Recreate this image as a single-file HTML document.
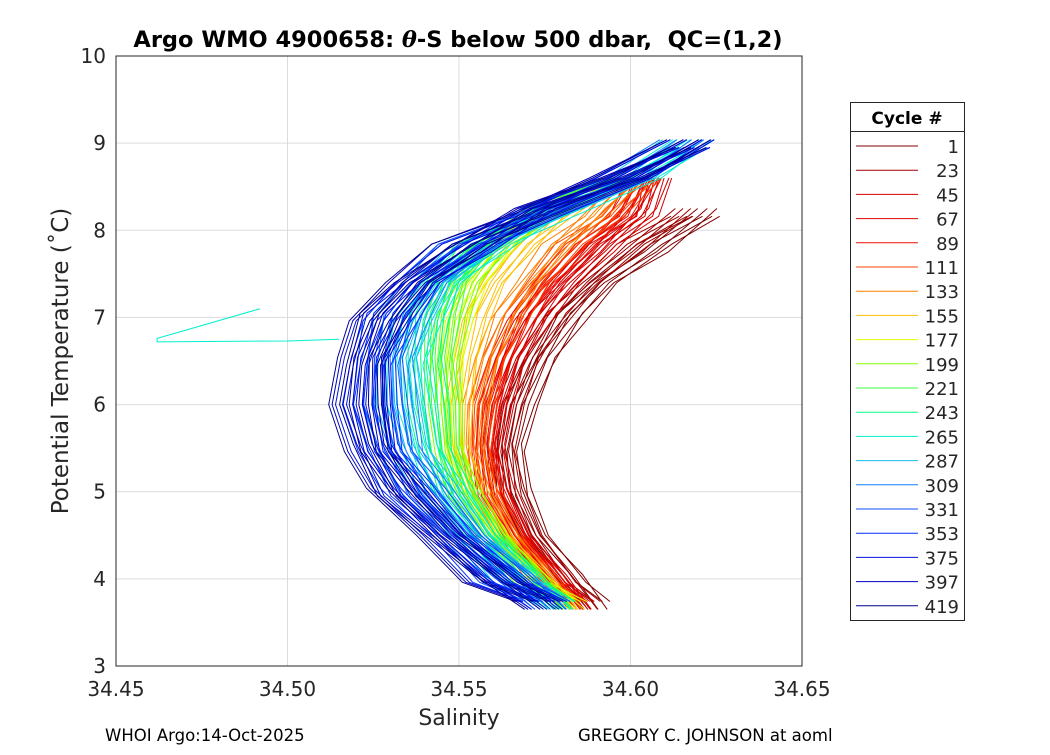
<!DOCTYPE html>
<html><head><meta charset="utf-8"><style>
body{margin:0;background:#fff;width:1050px;height:750px;overflow:hidden}
svg{font-family:"DejaVu Sans","Liberation Sans",sans-serif}
</style></head><body>
<svg id="c" width="1050" height="750" viewBox="0 0 1050 750">
<rect x="116" y="56" width="686" height="610" fill="#fff" stroke="none"/>
<g id="grid"></g><g id="lines"></g><g id="axes"></g>
<text x="458" y="47" text-anchor="middle" font-size="22.5" font-weight="bold" xml:space="preserve">Argo WMO 4900658: <tspan font-style="italic" font-family="DejaVu Serif,serif">θ</tspan>-S below 500 dbar,  QC=(1,2)</text>
<text x="459" y="725" text-anchor="middle" font-size="22" fill="#262626">Salinity</text>
<text transform="translate(68,361) rotate(-90)" text-anchor="middle" font-size="23" fill="#262626">Potential Temperature (˚C)</text>
<text x="105" y="741" font-size="16.5">WHOI Argo:14-Oct-2025</text>
<text x="578" y="741" font-size="16.5">GREGORY C. JOHNSON at aoml</text>
<g id="legend"></g>
</svg>
<script>
const xTicks=[34.45,34.5,34.55,34.6,34.65];
const yTicks=[3,4,5,6,7,8,9,10];
const tempLevels=[9.0,8.6,8.2,7.8,7.4,7.0,6.5,6.0,5.5,5.0,4.5,4.0,3.7];
const cycles=[1,23,45,67,89,111,133,155,177,199,221,243,265,287,309,331,353,375,397,419];
const colors=["#800000","#a00000","#d00000","#e00000","#f01000","#ff4000","#ff8000","#ffc000","#e0ff00","#80ff00","#40ff40","#00ff80","#00f0d0","#10c0f0","#1080ff","#1050ff","#0030ff","#0010e0","#0000c0","#000090"];
const sal1=[null,null,34.622,34.607,34.592,34.582,34.574,34.568,34.565,34.566,34.572,34.582,34.590];
const sal23=[null,null,34.615,34.600,34.588,34.578,34.570,34.565,34.563,34.565,34.571,34.580,34.588];
const sal45=[null,34.608,34.605,34.592,34.582,34.573,34.566,34.562,34.560,34.562,34.568,34.578,34.586];
const sal67=[null,34.605,34.600,34.588,34.578,34.570,34.564,34.560,34.558,34.560,34.567,34.577,34.585];
const sal89=[null,34.603,34.597,34.585,34.575,34.568,34.562,34.558,34.557,34.559,34.566,34.576,34.584];
const sal111=[null,34.605,34.595,34.582,34.573,34.566,34.560,34.557,34.556,34.558,34.565,34.575,34.583];
const sal133=[null,34.600,34.590,34.578,34.570,34.563,34.558,34.555,34.554,34.557,34.564,34.574,34.582];
const sal155=[null,34.595,34.580,34.568,34.560,34.555,34.552,34.550,34.550,34.554,34.562,34.573,34.582];
const sal177=[null,34.595,34.575,34.562,34.555,34.550,34.548,34.547,34.548,34.552,34.561,34.572,34.584];
const sal199=[null,34.595,34.575,34.560,34.552,34.548,34.546,34.546,34.547,34.551,34.560,34.571,34.580];
const sal221=[null,34.598,34.572,34.555,34.548,34.545,34.544,34.545,34.546,34.550,34.559,34.570,34.580];
const sal243=[null,34.600,34.575,34.555,34.545,34.541,34.540,34.541,34.543,34.548,34.557,34.569,34.579];
const sal265=[34.618,34.602,34.578,34.558,34.545,34.538,34.535,34.536,34.539,34.545,34.555,34.567,34.578];
const sal287=[34.615,34.600,34.575,34.555,34.542,34.535,34.532,34.533,34.536,34.543,34.553,34.566,34.577];
const sal309=[34.615,34.598,34.572,34.552,34.540,34.533,34.530,34.530,34.533,34.540,34.551,34.565,34.576];
const sal331=[34.618,34.598,34.572,34.552,34.538,34.530,34.527,34.527,34.530,34.538,34.550,34.564,34.576];
const sal353=[34.618,34.598,34.573,34.553,34.538,34.530,34.525,34.524,34.527,34.535,34.548,34.562,34.575];
const sal375=[34.618,34.598,34.573,34.553,34.538,34.528,34.523,34.522,34.525,34.533,34.546,34.561,34.575];
const sal397=[34.617,34.596,34.570,34.550,34.536,34.527,34.522,34.521,34.524,34.532,34.545,34.560,34.574];
const sal419=[34.617,34.597,34.571,34.550,34.535,34.526,34.521,34.520,34.523,34.531,34.544,34.559,34.573];
const profiles=[sal1,sal23,sal45,sal67,sal89,sal111,sal133,sal155,sal177,sal199,sal221,sal243,sal265,sal287,sal309,sal331,sal353,sal375,sal397,sal419];
const spread=[0.005,0.004,0.004,0.004,0.004,0.004,0.004,0.004,0.004,0.005,0.005,0.006,0.007,0.007,0.008,0.008,0.008,0.008,0.008,0.008];
const outlierS=[34.492,34.462,34.462,34.500,34.515];
const outlierT=[7.1,6.76,6.72,6.73,6.75];

const NS="http://www.w3.org/2000/svg";
const X0=116,X1=802,Y0=666,Y1=56;
const sx=s=>X0+(s-34.45)/(0.2)*(X1-X0);
const sy=t=>Y0-(t-3)/7*(Y0-Y1);
function mk(tag,attrs,parent){const e=document.createElementNS(NS,tag);for(const k in attrs)e.setAttribute(k,attrs[k]);parent.appendChild(e);return e;}
const grid=document.getElementById('grid'),axes=document.getElementById('axes'),lines=document.getElementById('lines'),leg=document.getElementById('legend');
xTicks.forEach(v=>{
 const g=mk('line',{x1:sx(v),x2:sx(v),y1:Y1,y2:Y0,stroke:'#dcdcdc','stroke-width':1},grid);
 
 
 const t=mk('text',{x:sx(v),y:Y0+30,'text-anchor':'middle','font-size':20,fill:'#262626'},axes);
 t.textContent=v.toFixed(2);
 
 
});
yTicks.forEach(v=>{
 const g=mk('line',{x1:X0,x2:X1,y1:sy(v),y2:sy(v),stroke:'#dcdcdc','stroke-width':1},grid);
 
 
 const t=mk('text',{x:X0-10,y:sy(v)+7,'text-anchor':'end','font-size':20,fill:'#262626'},axes);
 t.textContent=v;
 
 
});
const offs=[-1,-0.6,-0.25,0.1,0.45,0.8,1];
profiles.forEach((p,i)=>{
 offs.forEach((o,j)=>{
  let d='';let first=true;
  p.forEach((s,k)=>{if(s===null)return;
   const ss=s+o*spread[i]*(k%2?1:0.8);
   const tt=tempLevels[k]+(j%2?0.05:-0.04)*(k%3-1);
   d+=(first?'M':'L')+sx(ss).toFixed(1)+','+sy(tt).toFixed(1);first=false;});
  const pa=mk('path',{d:d,fill:'none',stroke:colors[i],'stroke-width':1},lines);
  
  
 });
});
let od='';outlierS.forEach((s,k)=>{od+=(k?'L':'M')+sx(s)+','+sy(outlierT[k]);});
const op=mk('path',{d:od,fill:'none',stroke:'#00f0d0','stroke-width':1},lines);


const fr=mk('rect',{x:X0,y:Y1,width:X1-X0,height:Y0-Y1,fill:'none',stroke:'#262626','stroke-width':1},axes);


mk('rect',{x:850.5,y:102.5,width:114,height:518,fill:'#fff',stroke:'#262626'},leg);
mk('line',{x1:850.5,x2:964.5,y1:131.5,y2:131.5,stroke:'#262626'},leg);
const lt=mk('text',{x:907,y:124,'text-anchor':'middle','font-size':17,'font-weight':'bold'},leg);
lt.textContent='Cycle #';


cycles.forEach((c,i)=>{
 const y=146+i*24.2;
 const l=mk('line',{x1:856,x2:918,y1:y,y2:y,stroke:colors[i],'stroke-width':1},leg);
 
 
 const t=mk('text',{x:959,y:y+7,'text-anchor':'end','font-size':18,fill:'#262626'},leg);
 t.textContent=c;
 
 
});
</script>
</body></html>
